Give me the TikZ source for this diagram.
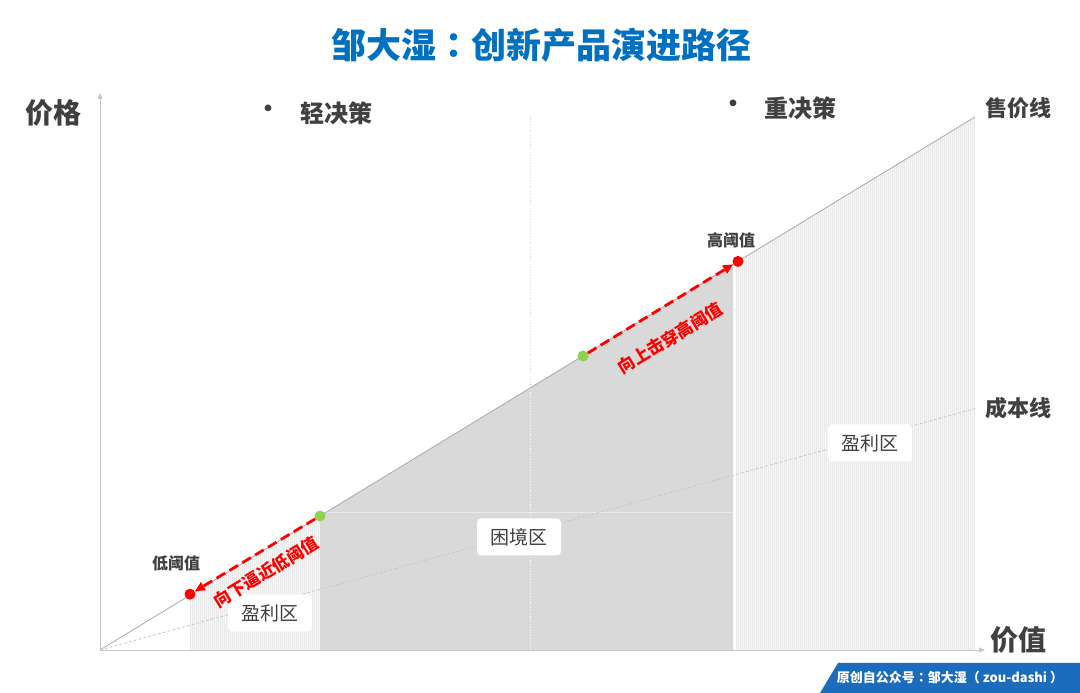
\documentclass[tikz,border=0pt]{standalone}
\usepackage{fontspec}
\setmainfont{Noto Sans CJK SC}
\newfontfamily\tcfont{Noto Sans CJK TC}
\usetikzlibrary{arrows.meta}
\definecolor{titleblue}{RGB}{0,112,192}
\definecolor{txt}{RGB}{64,64,64}
\definecolor{bandblue}{RGB}{28,108,190}
\definecolor{dotgreen}{RGB}{146,208,80}
\definecolor{hatchbg}{RGB}{246,246,246}
\definecolor{hatchln}{RGB}{234,234,234}
\definecolor{zonegray}{RGB}{217,217,217}
\definecolor{axisgray}{RGB}{200,200,200}
\definecolor{linegray}{RGB}{170,170,170}
\begin{document}
\begin{tikzpicture}[x=1pt,y=1pt,
  zonebox/.style={fill=white, rounded corners=4pt, text=txt, font=\fontsize{19}{22}\selectfont, minimum width=84pt, minimum height=37pt, inner sep=0pt},
  redlbl/.style={text=red, font=\bfseries\fontsize{17}{20}\selectfont, rotate=31.3},
  biglbl/.style={text=txt, font=\bfseries\fontsize{28}{32}\selectfont},
  linelbl/.style={text=txt, font=\bfseries\fontsize{22}{26}\selectfont},
  declbl/.style={text=txt, font=\bfseries\fontsize{24}{28}\selectfont},
  thrlbl/.style={text=txt, font=\bfseries\fontsize{16}{19}\selectfont},
  dotnode/.style={circle, inner sep=0pt, minimum size=11pt},
  redarrow/.style={red, line width=2.8pt, dash pattern=on 10pt off 5pt, -{Triangle[length=10pt,width=9pt]}},
  axisline/.style={axisgray, line width=0.8pt, -{Triangle[length=6pt,width=5pt]}}
]
\useasboundingbox (0,0) rectangle (1080,693);
\fill[white] (0,0) rectangle (1080,693);

% named points
\coordinate (O) at (100,43);
\coordinate (ytop) at (100,600);
\coordinate (xend) at (985,43);
\coordinate (S) at (975,576);
\coordinate (C) at (977,285);

% left profit zone (hatched)
\begin{scope}
  \clip (190,43) -- (190,98.8) -- (320,177) -- (320,43) -- cycle;
  \fill[hatchbg] (190,43) rectangle (320,180);
  \foreach \x in {190,192,...,320} \draw[hatchln, line width=0.6pt] (\x,43) -- (\x,180);
\end{scope}
% dilemma zone (gray)
\fill[zonegray] (320,43) -- (320,177) -- (733,428.6) -- (733,43) -- cycle;
\draw[white!45!zonegray, line width=0.8pt] (320,181) -- (733,181);
% right profit zone (hatched)
\begin{scope}
  \clip (736,43) -- (736,430.4) -- (975,576) -- (975,43) -- cycle;
  \fill[hatchbg] (736,43) rectangle (975,576);
  \foreach \x in {736,738,...,975} \draw[hatchln, line width=0.6pt] (\x,43) -- (\x,576);
\end{scope}

% vertical dotted divider
\draw[axisgray!70, dotted, line width=0.8pt] (530,305) -- (530,578);
\draw[white, dotted, line width=0.8pt] (530,43) -- (530,305);

% axes
\draw[axisline] (O) -- (ytop);
\draw[axisline] (O) -- (xend);

% sale line and cost line
\draw[linegray, line width=0.8pt] (O) -- (S);
\draw[axisgray, dash pattern=on 3pt off 2pt, line width=0.8pt] (O) -- (C);

% zone labels
\node[zonebox] (zl) at (270,80) {盈利区};
\node[zonebox] (zm) at (519,156) {困境区};
\node[zonebox] (zr) at (870,250) {盈利区};

% dots
\node[dotnode, fill=red] (lo) at (190,98.8) {};
\node[dotnode, fill=dotgreen] (g1) at (320,177) {};
\node[dotnode, fill=dotgreen] (g2) at (583,337) {};
\node[dotnode, fill=red] (hi) at (738,431.6) {};

% red arrows
\draw[redarrow] (g1) -- (lo);
\draw[redarrow] (g2) -- (hi);

\node[redlbl] (tdown) at (266,121) {向下逼近低阈值};
\node[redlbl] (tup) at (670,355) {向上击穿高阈值};

\node[thrlbl] (lothr) at (176,130) {低阈值};
\node[thrlbl] (hithr) at (731,453) {高阈值};

% axis and line labels
\node[biglbl] (price) at (53,580) {价格};
\node[biglbl] (value) at (1018,53) {价值};
\node[linelbl] (sale) at (1018,585) {售价线};
\node[linelbl] (cost) at (1018,285) {成本线};

% decision labels
\node[declbl] (b1) at (268,582) {•};
\node[declbl] (light) at (336,580) {轻决策};
\node[declbl] (b2) at (733,587) {•};
\node[declbl] (heavy) at (800,585) {重决策};

% title
\node[text=titleblue, font=\bfseries\fontsize{35}{40}\selectfont] (title) at (541,648) {邹大湿{\tcfont ：}创新产品演进路径};

% banner
\fill[bandblue] (820,0) -- (838,30) -- (1080,30) -- (1080,0) -- cycle;
\node[text=white, font=\bfseries\fontsize{13}{15}\selectfont] (src) at (950,15) {原创自公众号{\tcfont ：}邹大湿{\tcfont （}\hspace{3pt}zou-dashi\hspace{3pt}{\tcfont ）}};
\end{tikzpicture}
\end{document}
